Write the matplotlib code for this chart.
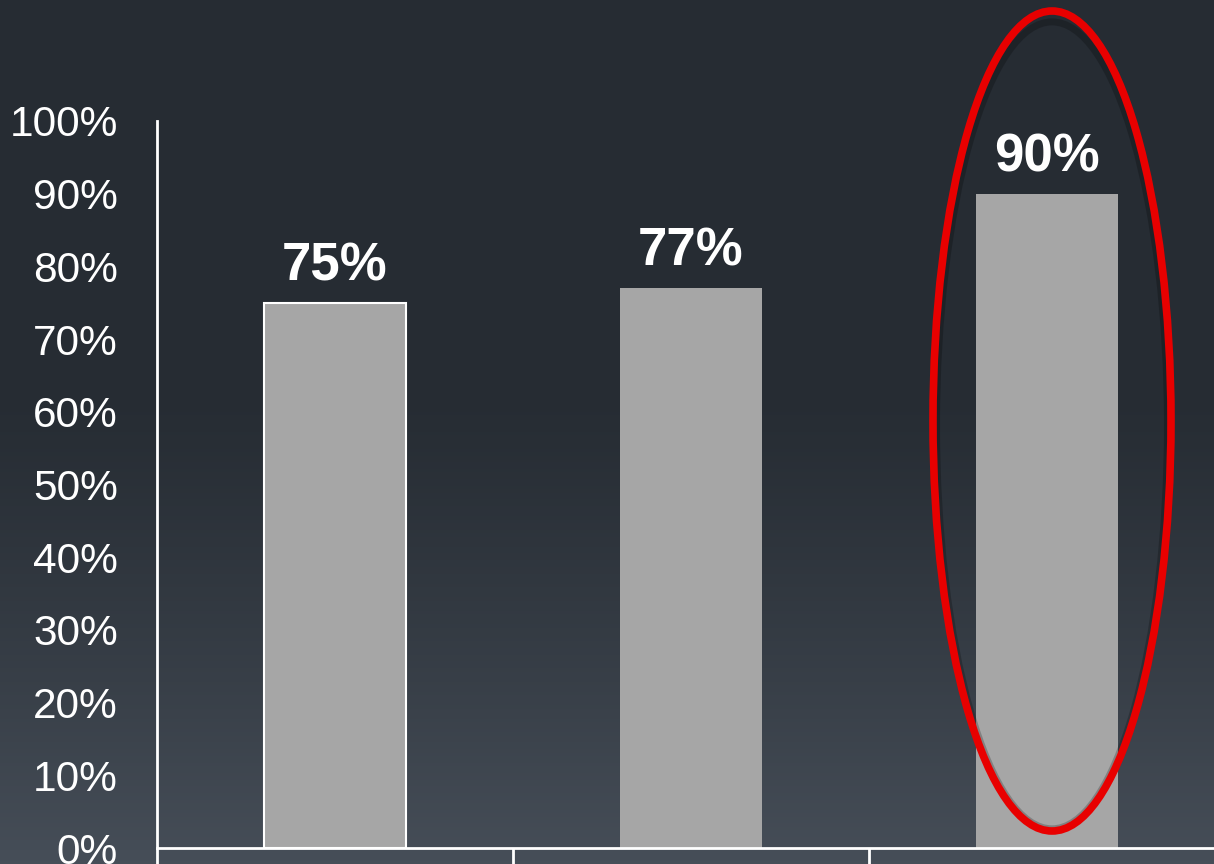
import numpy as np
import matplotlib.pyplot as plt
from matplotlib.patches import Ellipse

categories = ['A', 'B', 'C']
values = [75, 77, 90]
value_labels = ['75%', '77%', '90%']
yticks = list(range(0, 101, 10))
ytick_labels = [f'{t}%' for t in yticks]

plt.rcParams['font.family'] = ['Liberation Sans', 'DejaVu Sans']
W, H = 1214, 864
fig = plt.figure(figsize=(W / 100, H / 100), dpi=100)

# фон: тёмный градиент, светлее к низу
bg = fig.add_axes([0, 0, 1, 1])
t = np.linspace(0, 1, 256)
k = np.clip((t - 0.45) / 0.55, 0, 1) ** 1.2
top = np.array([38, 44, 51]) / 255
bot = np.array([70, 78, 88]) / 255
grad = top[None, :] * (1 - k[:, None]) + bot[None, :] * k[:, None]
bg.imshow(grad[:, None, :], aspect='auto', extent=[0, 1, 1, 0])
bg.axis('off')

# оси: слева 157px, низ 848px, верх (100%) 121px, категория 356px
left, bottom_px, top_px, cat_w = 157, 848, 121, 356
ax = fig.add_axes([left / W, (H - bottom_px) / H, 3 * cat_w / W, (bottom_px - top_px) / H])
ax.set_facecolor('none')

x = np.arange(len(categories))
bars = ax.bar(x, values, width=0.40, color='#a6a6a6', zorder=2)
bars[0].set_edgecolor('white')
bars[0].set_linewidth(1.5)

for xi, v, lab in zip(x, values, value_labels):
    ax.text(xi, v + 3.1, lab, ha='center', va='baseline', color='white',
            fontsize=38, fontweight='bold')

ax.set_xlim(-0.5, 2.5)
ax.set_ylim(0, 100)
ax.set_yticks(yticks)
ax.set_yticklabels(ytick_labels, color='white', fontsize=30.5)
ax.tick_params(axis='y', length=0, pad=28)
ax.set_xticks([-0.5, 0.5, 1.5])
ax.set_xticklabels([])
ax.tick_params(axis='x', length=12, width=2, color='white', direction='out')
for s in ['top', 'right']:
    ax.spines[s].set_visible(False)
for s in ['left', 'bottom']:
    ax.spines[s].set_color('white')
    ax.spines[s].set_linewidth(2)
ax.spines['bottom'].set_zorder(3)

# красный овал вокруг третьего столбца
ex = 2 + (1052 - 1047) / cat_w
ey = (bottom_px - 421) / (bottom_px - top_px) * 100
ew = 238 / cat_w
eh = 820 / (bottom_px - top_px) * 100
shadow = Ellipse((ex, ey - 0.6), ew - 0.02, eh - 1.8, fill=False,
                 edgecolor='black', alpha=0.22, linewidth=5, clip_on=False, zorder=4)
ax.add_patch(shadow)
ring = Ellipse((ex, ey), ew, eh, fill=False, edgecolor='#e80000',
               linewidth=5.5, clip_on=False, zorder=5)
ax.add_patch(ring)

fig.savefig('out.png', dpi=100)
